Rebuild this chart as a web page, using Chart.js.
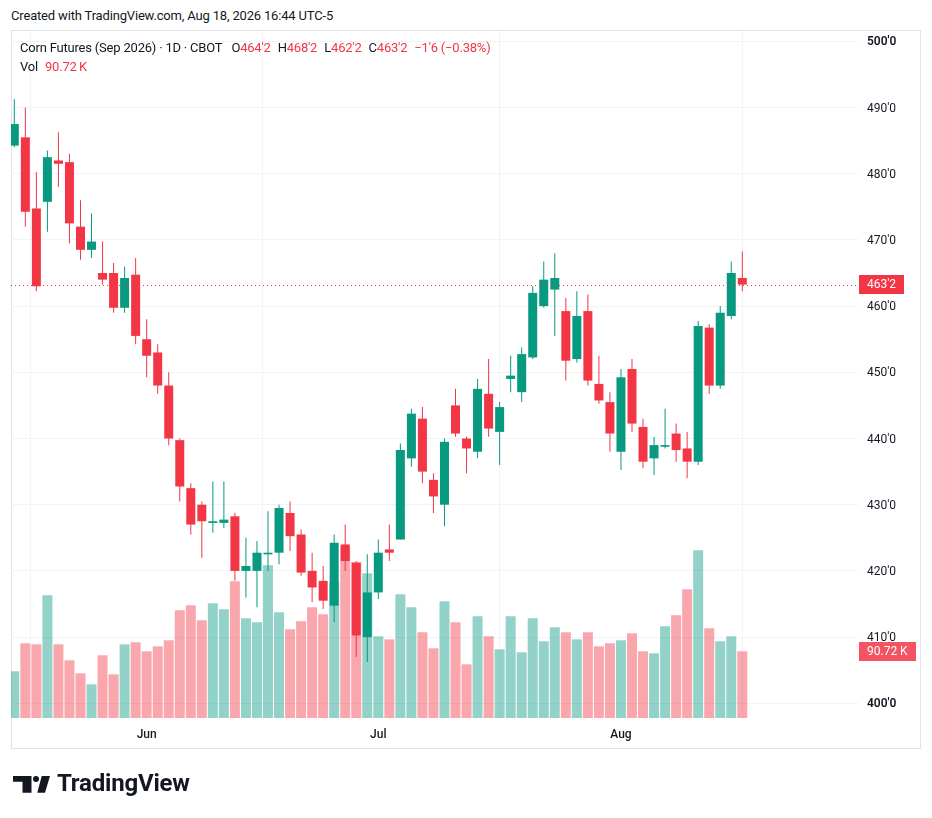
<!DOCTYPE html>
<html>
<head>
<meta charset="utf-8">
<script src="https://cdn.jsdelivr.net/npm/chart.js@4.4.1/dist/chart.umd.min.js"></script>
<style>
  html, body { margin: 0; padding: 0; background: #fff; }
  body { width: 932px; height: 818px; position: relative; overflow: hidden;
         font-family: Roboto, "Noto Sans", sans-serif; color: #131722; }
  #created { position: absolute; left: 11px; top: 8px; font-size: 13px; letter-spacing: -0.17px; }
  #pane { position: absolute; left: 11px; top: 30px; width: 908px; height: 717px; border: 1px solid #E0E3EB; }
  #chart { position: absolute; left: 0; top: 0; }
  #legend { position: absolute; left: 20px; top: 38px; font-size: 13px; line-height: 19px; letter-spacing: -0.2px; }
  #legend span.v { color: #F23645; }
  #legend span.k { margin-left: 7px; }
  #logo { position: absolute; left: 13px; top: 771px; height: 26px; }
  #logo svg { position: absolute; left: 0; top: 5px; }
  #logo span { position: absolute; left: 44px; top: -2px; font-size: 24px; font-weight: 700; letter-spacing: -0.2px; white-space: nowrap; }
</style>
</head>
<body>
<div id="created">Created with TradingView.com, Aug 18, 2026 16:44 UTC-5</div>
<div id="pane"></div>
<canvas id="chart" width="932" height="818"></canvas>
<div id="legend"></div>
<div id="logo">
  <svg width="38" height="18" viewBox="0 0 38 18">
    <path d="M0 0H18.5V16.7H9.5V5.7H0Z" fill="#131722"/>
    <circle cx="23" cy="3" r="3" fill="#131722"/>
    <path d="M28.7 0H37L32 16.7H24.3Z" fill="#131722"/>
  </svg>
  <span>TradingView</span>
</div>
<script>
const dates = [
  '2026-05-13','2026-05-14','2026-05-15','2026-05-18','2026-05-19','2026-05-20','2026-05-21','2026-05-22',
  '2026-05-26','2026-05-27','2026-05-28','2026-05-29',
  '2026-06-01','2026-06-02','2026-06-03','2026-06-04','2026-06-05','2026-06-08','2026-06-09','2026-06-10',
  '2026-06-11','2026-06-12','2026-06-15','2026-06-16','2026-06-17','2026-06-18','2026-06-22','2026-06-23',
  '2026-06-24','2026-06-25','2026-06-26','2026-06-29','2026-06-30',
  '2026-07-01','2026-07-02','2026-07-06','2026-07-07','2026-07-08','2026-07-09','2026-07-10','2026-07-13',
  '2026-07-14','2026-07-15','2026-07-16','2026-07-17','2026-07-20','2026-07-21','2026-07-22','2026-07-23',
  '2026-07-24','2026-07-27','2026-07-28','2026-07-29','2026-07-30','2026-07-31',
  '2026-08-03','2026-08-04','2026-08-05','2026-08-06','2026-08-07','2026-08-10','2026-08-11','2026-08-12',
  '2026-08-13','2026-08-14','2026-08-17','2026-08-18'
]
const opens = [
  484.25, 485.5, 474.75, 475.75, 482.0, 481.75, 472.0, 468.5, 465.0, 465.0, 459.75, 464.75,
  455.0, 453.0, 448.0, 439.75, 432.5, 430.0, 427.25, 427.25, 428.25, 420.0, 420.0, 422.5, 422.75, 428.75,
  425.5, 420.0, 418.5, 414.75, 424.0, 421.25, 410.0,
  416.75, 423.25, 424.75, 437.0, 443.0, 433.75, 430.0, 445.0, 440.0, 438.0, 446.75, 441.0, 449.0, 447.0,
  452.25, 460.0, 462.5, 459.25, 452.0, 459.25, 448.25, 445.5,
  438.0, 450.5, 441.75, 437.0, 438.75, 440.75, 438.5, 436.5, 456.75, 448.0, 458.5, 464.25
]
const highs = [
  491.25, 490.0, 480.25, 483.5, 486.25, 483.0, 476.0, 474.0, 469.75, 466.5, 466.0, 467.25,
  458.0, 454.25, 450.0, 440.0, 433.25, 430.5, 433.5, 433.5, 428.75, 425.0, 424.5, 429.0, 430.0, 430.5,
  426.25, 422.75, 420.75, 425.5, 427.0, 421.5, 422.5,
  424.75, 427.0, 439.25, 444.5, 444.75, 434.75, 440.0, 447.5, 440.25, 449.0, 452.0, 445.5, 452.5, 453.75,
  463.0, 466.75, 468.0, 461.25, 462.25, 461.75, 452.5, 447.0,
  450.5, 452.0, 443.0, 440.25, 444.5, 442.25, 441.0, 457.75, 457.25, 460.0, 466.75, 468.25
]
const lows = [
  484.0, 472.0, 462.25, 471.25, 478.0, 469.5, 467.0, 467.25, 463.25, 459.0, 459.0, 454.25,
  449.25, 446.75, 439.0, 430.5, 425.5, 422.0, 425.75, 426.5, 418.5, 416.0, 414.5, 420.0, 421.0, 423.0,
  419.25, 415.25, 414.25, 412.25, 420.0, 407.0, 406.25,
  415.75, 421.5, 424.75, 435.75, 433.25, 428.75, 426.75, 440.25, 434.75, 437.0, 440.25, 436.0, 447.0, 445.5,
  452.0, 459.75, 455.5, 448.75, 451.5, 448.0, 445.25, 438.0,
  435.25, 441.0, 435.5, 434.5, 438.5, 436.5, 434.0, 436.0, 446.75, 447.5, 458.0, 462.25
]
const closes = [
  487.5, 474.25, 463.0, 482.5, 481.5, 472.5, 468.5, 469.75, 464.0, 459.75, 464.25, 455.5,
  452.5, 448.0, 440.0, 432.75, 427.0, 427.5, 427.5, 427.75, 420.0, 420.75, 422.75, 422.75, 429.5, 425.25,
  419.75, 417.5, 415.5, 424.25, 421.5, 410.25, 416.75,
  422.75, 422.75, 438.25, 443.75, 435.0, 431.25, 439.5, 440.75, 438.5, 447.5, 441.5, 444.75, 449.5, 452.75,
  462.0, 464.0, 464.25, 451.75, 458.5, 448.75, 445.75, 440.75,
  449.25, 442.25, 436.5, 439.0, 439.0, 438.25, 436.5, 457.0, 448.0, 459.0, 465.0, 463.25
]
// volume in thousands of contracts
const volumes = [
  63.5, 101.6, 100.2, 166.9, 100.2, 78.5, 60.8, 45.8, 85.3, 59.4, 100.2, 103.0,
  90.7, 97.5, 105.7, 146.5, 153.3, 132.9, 156.0, 147.8, 185.9, 135.6, 130.2, 207.7, 143.8, 120.6,
  131.5, 150.6, 141.0, 184.6, 233.5, 211.8, 196.8,
  111.1, 107.0, 168.2, 150.6, 116.6, 94.8, 158.7, 130.2, 73.0, 138.3, 111.1, 93.4, 138.3, 89.4,
  135.6, 104.3, 123.4, 116.6, 107.0, 116.6, 97.5, 101.6,
  105.7, 115.2, 90.7, 88.0, 124.7, 139.7, 175.0, 228.1, 122.0, 104.3, 111.1, 90.72
]
const monthLabels = ['Jun', 'Jul', 'Aug']
const priceTicks = [400, 410, 420, 430, 440, 450, 460, 470, 480, 490, 500]

const upColor = '#089981'
const downColor = '#F23645'
const upVol = 'rgba(8,153,129,0.44)'
const downVol = 'rgba(242,54,69,0.44)'
const gridColor = '#F0F3FA'
const textColor = '#131722'

function fmtPrice(p) {
    let whole = Math.floor(p + 1e-9)
    let eighths = Math.round((p - whole) * 8)
    return whole + "'" + eighths
}

// first trading day of each new month
const monthStarts = []
for (let i = 1; i < dates.length; i++) {
    if (dates[i].slice(5, 7) !== dates[i - 1].slice(5, 7)) monthStarts.push(i)
}

const isUp = closes.map((c, i) => c >= opens[i])
const last = closes.length - 1

// legend text
const chg = closes[last] - closes[last - 1]
const pct = chg / closes[last - 1] * 100
const sign = chg < 0 ? '\u2212' : '+'
document.getElementById('legend').innerHTML =
    'Corn Futures (Sep 2026) \u00b7 1D \u00b7 CBOT' +
    '<span class="k" style="margin-left:9px">O<span class="v">' + fmtPrice(opens[last]) + '</span></span>' +
    '<span class="k">H<span class="v">' + fmtPrice(highs[last]) + '</span></span>' +
    '<span class="k">L<span class="v">' + fmtPrice(lows[last]) + '</span></span>' +
    '<span class="k">C<span class="v">' + fmtPrice(closes[last]) + '</span></span>' +
    '<span class="k v">' + sign + fmtPrice(Math.abs(chg)) + ' (' + sign + Math.abs(pct).toFixed(2) + '%)</span>' +
    '<br>Vol<span class="v" style="margin-left:7px">' + volumes[last].toFixed(2) + '\u2009K</span>'

function drawTag(ctx, x, yc, w, text, fill) {
    ctx.fillStyle = fill
    ctx.fillRect(x, Math.round(yc - 9.5), w, 19)
    ctx.fillStyle = '#fff'
    ctx.font = '12px Roboto'
    ctx.textBaseline = 'middle'
    ctx.textAlign = 'left'
    ctx.fillText(text, x + 8, yc + 0.5)
}

const lastMarks = {
    id: 'lastMarks',
    afterDatasetsDraw(chart) {
        const { ctx, chartArea } = chart
        const y = Math.round(chart.scales.y.getPixelForValue(closes[last])) + 0.5
        ctx.save()
        ctx.strokeStyle = downColor
        ctx.lineWidth = 1
        ctx.setLineDash([1, 3])
        ctx.beginPath()
        ctx.moveTo(chartArea.left, y)
        ctx.lineTo(chartArea.right, y)
        ctx.stroke()
        ctx.restore()
    },
    afterDraw(chart) {
        const { ctx, chartArea } = chart
        ctx.save()
        const upLast = isUp[last]
        drawTag(ctx, chartArea.right + 1, chart.scales.y.getPixelForValue(closes[last]), 45,
            fmtPrice(closes[last]), upLast ? upColor : downColor)
        drawTag(ctx, chartArea.right + 1, chart.scales.yv.getPixelForValue(volumes[last]), 57,
            volumes[last].toFixed(2) + ' K', upLast ? 'rgba(8,153,129,0.85)' : 'rgba(242,54,69,0.85)')
        ctx.restore()
    }
}

Chart.defaults.font.family = 'Roboto'

new Chart(document.getElementById('chart'), {
    type: 'bar',
    data: {
        datasets: [
            {
                label: 'Body',
                data: opens.map((o, i) => ({ x: i, y: [o, closes[i]] })),
                backgroundColor: isUp.map(u => u ? upColor : downColor),
                barThickness: 9,
                minBarLength: 1.5,
                grouped: false,
                inflateAmount: 0,
                borderWidth: 0,
                order: 1
            },
            {
                label: 'Wick',
                data: lows.map((l, i) => ({ x: i, y: [l, highs[i]] })),
                backgroundColor: isUp.map(u => u ? upColor : downColor),
                barThickness: 1,
                grouped: false,
                inflateAmount: 0,
                borderWidth: 0,
                order: 2
            },
            {
                label: 'Vol',
                yAxisID: 'yv',
                data: volumes.map((v, i) => ({ x: i, y: v })),
                backgroundColor: isUp.map(u => u ? upVol : downVol),
                barThickness: 10,
                grouped: false,
                inflateAmount: 0,
                borderWidth: 0,
                order: 3
            }
        ]
    },
    options: {
        responsive: false,
        animation: false,
        events: [],
        layout: { padding: { left: 11, right: 11, top: 31, bottom: 69 } },
        plugins: { legend: { display: false }, tooltip: { enabled: false } },
        scales: {
            x: {
                type: 'linear',
                min: -0.3,
                max: 76.49,
                offset: false,
                afterBuildTicks: s => { s.ticks = monthStarts.map(v => ({ value: v })) },
                afterFit: s => { s.height = 31 },
                ticks: {
                    autoSkip: false,
                    maxRotation: 0,
                    padding: 10,
                    color: textColor,
                    font: { size: 12, weight: '500' },
                    callback: (v) => monthLabels[monthStarts.indexOf(v)]
                },
                grid: { color: gridColor, drawTicks: false },
                border: { display: false }
            },
            y: {
                position: 'right',
                min: 397.78,
                max: 501.56,
                afterBuildTicks: s => { s.ticks = priceTicks.map(v => ({ value: v })) },
                afterFit: s => { s.width = 63 },
                ticks: {
                    padding: 9,
                    labelOffset: 1,
                    color: textColor,
                    font: c => ({ size: 12, weight: (c.tick && (c.tick.value === 500 || c.tick.value === 400)) ? '600' : '400' }),
                    callback: v => fmtPrice(v)
                },
                grid: { color: gridColor, drawTicks: false },
                border: { display: false }
            },
            yv: {
                display: false,
                min: 0,
                max: 934.4
            }
        }
    },
    plugins: [lastMarks]
})
</script>
</body>
</html>
